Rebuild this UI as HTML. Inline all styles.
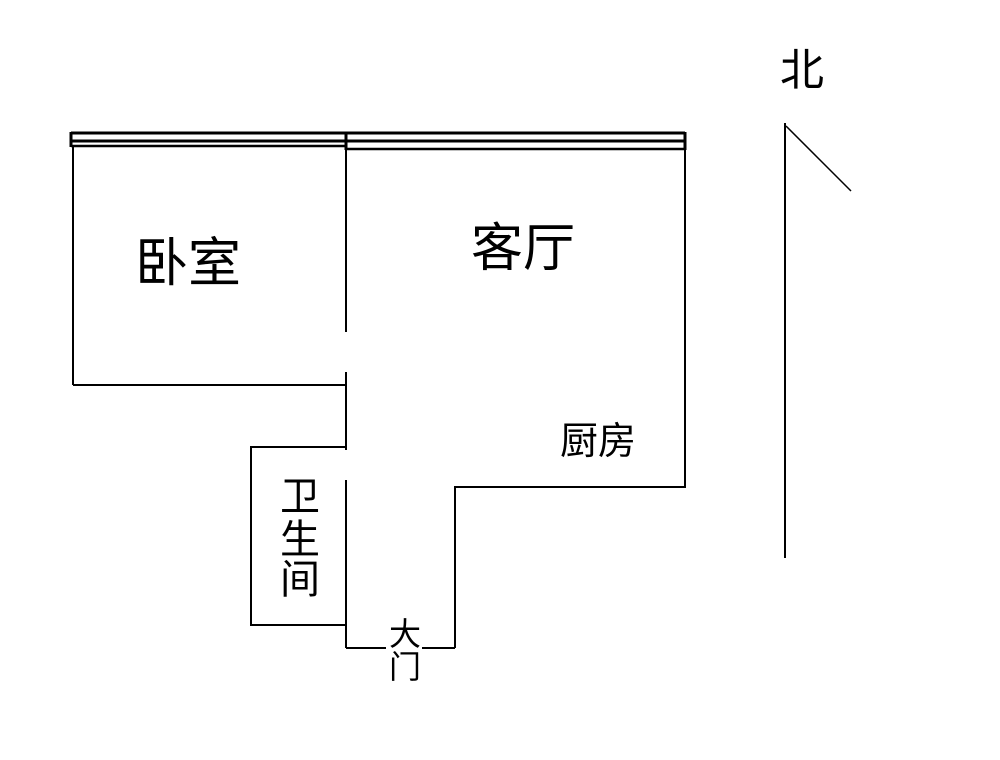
<!DOCTYPE html>
<html><head><meta charset="utf-8"><style>
html,body{margin:0;padding:0;background:#fff;}
svg{display:block}
text{font-family:"Liberation Sans","Noto Sans CJK SC",sans-serif;fill:#000}
</style></head><body>
<svg width="1000" height="760" xmlns="http://www.w3.org/2000/svg">
<g stroke="#000" stroke-width="2" fill="none">
<line x1="71" y1="133" x2="685" y2="133" stroke-width="3"/>
<line x1="71" y1="141" x2="685" y2="141" stroke-width="3"/>
<line x1="346" y1="149" x2="685" y2="149" stroke-width="2.5"/>
<line x1="71" y1="146" x2="346" y2="146" stroke-width="2.5"/>
<line x1="71" y1="132" x2="71" y2="147" stroke-width="3"/>
<line x1="346" y1="132" x2="346" y2="150" stroke-width="3"/>
<line x1="685" y1="132" x2="685" y2="150" stroke-width="3"/>
<line x1="73" y1="146" x2="73" y2="385"/>
<line x1="73" y1="385" x2="347" y2="385"/>
<line x1="346" y1="146" x2="346" y2="332"/>
<line x1="346" y1="372" x2="346" y2="450"/>
<line x1="346" y1="480" x2="346" y2="648"/>
<polyline points="346,447 251,447 251,625 346,625"/>
<line x1="346" y1="648" x2="386" y2="648"/>
<line x1="422" y1="648" x2="455" y2="648"/>
<polyline points="455,648 455,487 685,487 685,146"/>
<line x1="785" y1="123" x2="785" y2="558"/>
<line x1="786" y1="126" x2="851" y2="191" stroke-width="1.5"/>
</g>
<text x="188" y="281" font-size="53" text-anchor="middle">卧室</text>
<text x="523" y="266" font-size="52" text-anchor="middle">客厅</text>
<text x="598" y="454" font-size="38" text-anchor="middle">厨房</text>
<text x="300" y="510" font-size="40" text-anchor="middle">卫</text>
<text x="300" y="553" font-size="40" text-anchor="middle">生</text>
<text x="300" y="593" font-size="40" text-anchor="middle">间</text>
<text x="405" y="645" font-size="32" text-anchor="middle">大</text>
<text x="405" y="678" font-size="32" text-anchor="middle">门</text>
<text x="802" y="85" font-size="44" text-anchor="middle">北</text>
</svg>
</body></html>
